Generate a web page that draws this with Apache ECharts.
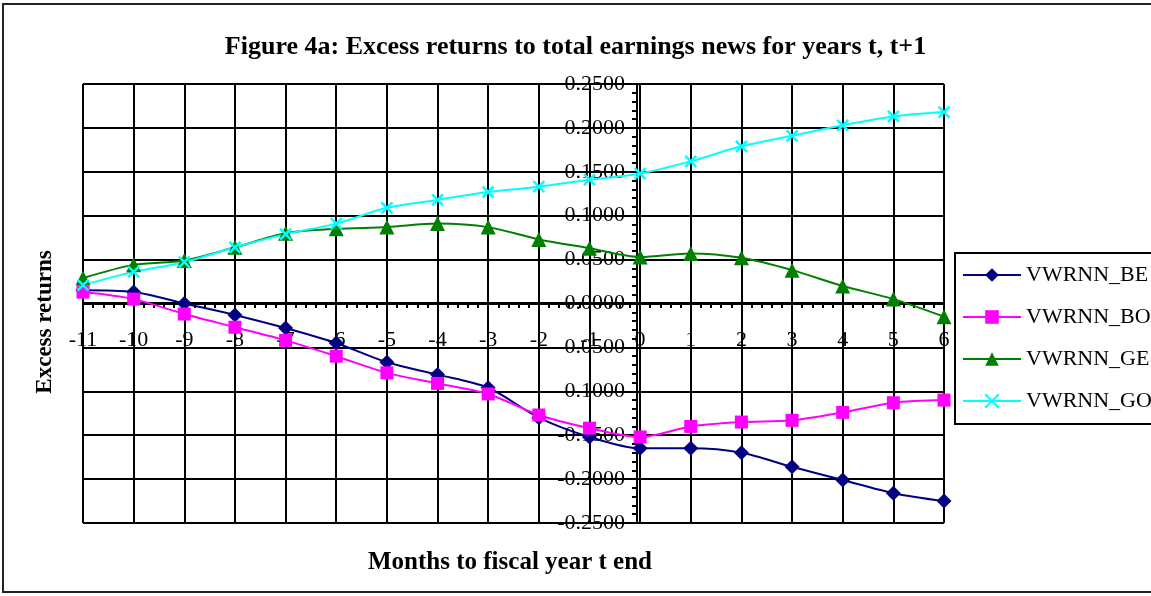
<!DOCTYPE html>
<html>
<head>
<meta charset="utf-8">
<script src="https://cdn.jsdelivr.net/npm/echarts@6/dist/echarts.min.js"></script>
<style>
    html, body { margin: 0; padding: 0; background: #fff; }
    #chart { width: 1151px; height: 596px; }
</style>
</head>
<body>
<div id="chart"></div>
<script>
// Chart data
// ------------------------------

var months = [-11, -10, -9, -8, -7, -6, -5, -4, -3, -2, -1, 0, 1, 2, 3, 4, 5, 6];

var vwrnnBE = [0.015, 0.013, 0.000, -0.013, -0.028, -0.045, -0.067, -0.081, -0.096, -0.130, -0.152, -0.165, -0.165, -0.170, -0.186, -0.201, -0.216, -0.225];
var vwrnnBO = [0.013, 0.005, -0.012, -0.027, -0.042, -0.060, -0.079, -0.091, -0.103, -0.127, -0.142, -0.152, -0.140, -0.135, -0.133, -0.124, -0.113, -0.110];
var vwrnnGE = [0.029, 0.044, 0.049, 0.064, 0.080, 0.085, 0.087, 0.091, 0.087, 0.073, 0.063, 0.053, 0.057, 0.052, 0.038, 0.020, 0.005, -0.015];
var vwrnnGO = [0.021, 0.036, 0.047, 0.064, 0.079, 0.091, 0.109, 0.118, 0.127, 0.133, 0.141, 0.148, 0.162, 0.179, 0.191, 0.203, 0.213, 0.218];

var seriesNames = ['VWRNN_BE', 'VWRNN_BO', 'VWRNN_GE', 'VWRNN_GO'];

var serifFont = '"Liberation Serif", "Times New Roman", serif';

// Pair month with value
var toPoints = function(values) {
    return months.map(function(m, i) { return [m, values[i]]; });
};

var chart = echarts.init(document.getElementById('chart'));

chart.setOption({
    animation: false,
    textStyle: {
        fontFamily: serifFont,
        color: '#000'
    },

    title: {
        text: 'Figure 4a: Excess returns to total earnings news for years t, t+1',
        left: 'center',
        top: 29,
        textStyle: {
            fontFamily: serifFont,
            fontWeight: 'bold',
            fontSize: 26,
            color: '#000'
        }
    },

    grid: {
        left: 83,
        right: 207,
        top: 84,
        bottom: 73
    },

    legend: {
        data: seriesNames,
        orient: 'vertical',
        left: 962,
        top: 264,
        padding: 0,
        itemGap: 20,
        itemWidth: 58,
        itemHeight: 17,
        textStyle: {
            fontFamily: serifFont,
            fontSize: 22,
            color: '#000'
        }
    },

    // Border of chart, legend box and axis titles
    graphic: [
        {
            type: 'rect',
            shape: { x: 3, y: 4, width: 1180, height: 588 },
            style: { fill: 'none', stroke: '#222', lineWidth: 2 },
            silent: true
        },
        {
            type: 'rect',
            shape: { x: 955, y: 253, width: 260, height: 171 },
            style: { fill: 'none', stroke: '#000', lineWidth: 2 },
            silent: true
        },
        {
            type: 'text',
            x: 510,
            y: 563,
            style: {
                text: 'Months to fiscal year t end',
                font: 'bold 25px ' + serifFont,
                fill: '#000',
                textAlign: 'center',
                textVerticalAlign: 'middle'
            }
        },
        {
            type: 'text',
            x: 45,
            y: 322,
            rotation: Math.PI / 2,
            style: {
                text: 'Excess returns',
                font: 'bold 23px ' + serifFont,
                fill: '#000',
                textAlign: 'center',
                textVerticalAlign: 'middle'
            }
        }
    ],

    // Axis sits at y = 0 (moved up from the bottom of the grid)
    xAxis: {
        type: 'value',
        min: -11,
        max: 6,
        interval: 1,
        position: 'bottom',
        offset: -220,
        axisLine: {
            onZero: false,
            lineStyle: { color: '#000', width: 2 }
        },
        axisTick: {
            length: 6,
            lineStyle: { color: '#000', width: 2 }
        },
        minorTick: {
            show: true,
            splitNumber: 5,
            length: 5,
            lineStyle: { color: '#000', width: 2 }
        },
        axisLabel: {
            margin: 26,
            fontSize: 22,
            fontFamily: serifFont,
            color: '#000'
        },
        splitLine: {
            show: true,
            lineStyle: { color: '#000', width: 2 }
        }
    },

    // Axis sits at month 0 (moved in from the left of the grid)
    yAxis: {
        type: 'value',
        min: -0.25,
        max: 0.25,
        interval: 0.05,
        position: 'left',
        offset: -554,
        axisLine: {
            onZero: false,
            lineStyle: { color: '#000', width: 2 }
        },
        axisTick: {
            length: 6,
            lineStyle: { color: '#000', width: 2 }
        },
        minorTick: {
            show: true,
            splitNumber: 5,
            length: 5,
            lineStyle: { color: '#000', width: 2 }
        },
        axisLabel: {
            margin: 12,
            fontSize: 22,
            fontFamily: serifFont,
            color: '#000',
            formatter: function(v) {
                if (Math.abs(v) < 1e-9) v = 0;
                return v.toFixed(4);
            }
        },
        splitLine: {
            show: true,
            lineStyle: { color: '#000', width: 2 }
        }
    },

    series: [
        {
            name: 'VWRNN_BE',
            type: 'line',
            smooth: 0.3,
            data: toPoints(vwrnnBE),
            symbol: 'diamond',
            symbolSize: 15,
            lineStyle: { color: '#000080', width: 2 },
            itemStyle: { color: '#000080' }
        },
        {
            name: 'VWRNN_BO',
            type: 'line',
            smooth: 0.3,
            data: toPoints(vwrnnBO),
            symbol: 'rect',
            symbolSize: 13,
            lineStyle: { color: '#FF00FF', width: 2 },
            itemStyle: { color: '#FF00FF' }
        },
        {
            name: 'VWRNN_GE',
            type: 'line',
            smooth: 0.3,
            data: toPoints(vwrnnGE),
            symbol: 'triangle',
            symbolSize: 15,
            lineStyle: { color: '#008000', width: 2 },
            itemStyle: { color: '#008000' }
        },
        {
            name: 'VWRNN_GO',
            type: 'line',
            smooth: 0.3,
            data: toPoints(vwrnnGO),
            symbol: 'path://M0,0L10,10M10,0L0,10',
            symbolSize: 11,
            lineStyle: { color: '#00FFFF', width: 2 },
            itemStyle: { color: '#00FFFF', borderColor: '#00FFFF', borderWidth: 2.5 }
        }
    ]
});
</script>
</body>
</html>
